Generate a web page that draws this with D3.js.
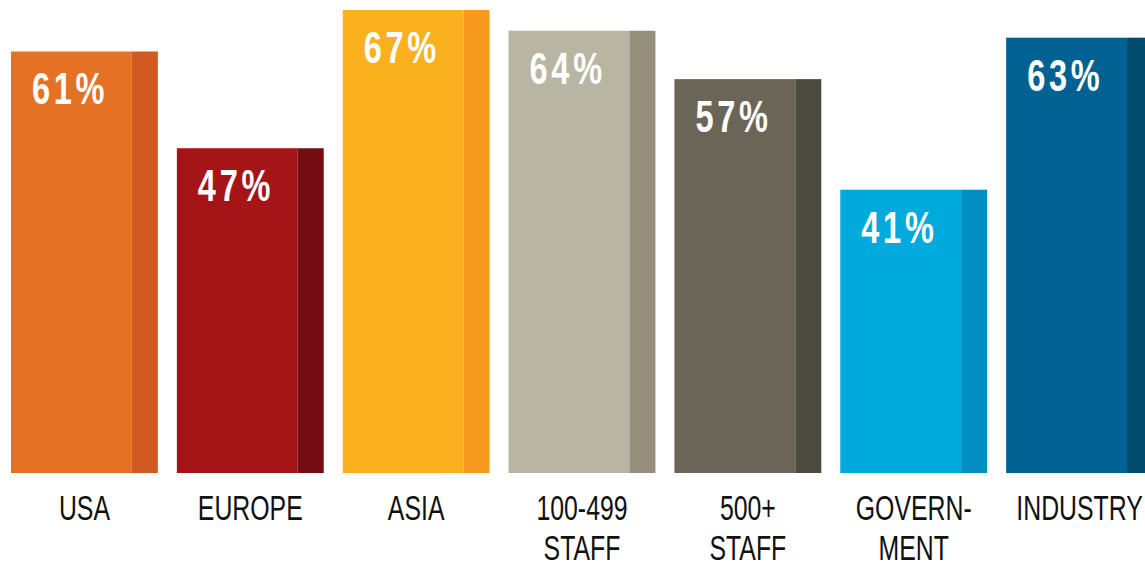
<!DOCTYPE html>
<html>
<head>
<meta charset="utf-8">
<script src="https://cdn.jsdelivr.net/npm/d3@7"></script>
<style>
  body { margin: 0; background: #fff; overflow: hidden; }
  svg { display: block; }
</style>
</head>
<body>
<div id="chart"></div>
<script>
// data
var categories = ["USA", "EUROPE", "ASIA", "100-499 STAFF", "500+ STAFF", "GOVERN- MENT", "INDUSTRY"];
var labelLines = [["USA"], ["EUROPE"], ["ASIA"], ["100-499", "STAFF"], ["500+", "STAFF"], ["GOVERN-", "MENT"], ["INDUSTRY"]];
var values = [61, 47, 67, 64, 57, 41, 63];
var mainColors = ["#e57125", "#a51417", "#fbb01e", "#b9b5a3", "#6b6558", "#00aadc", "#006192"];
var stripColors = ["#d05a22", "#730d11", "#f89a20", "#958f7b", "#4b4a3f", "#008dc2", "#004b6e"];

var svgWidth = 1145;
var svgHeight = 566;
var baseY = 473;

var svg = d3.select("#chart")
  .append("svg")
  .attr("width", svgWidth)
  .attr("height", svgHeight);

var data = categories.map(function(c, i) {
  return { cat: c, lines: labelLines[i], value: values[i], main: mainColors[i], strip: stripColors[i] };
});

// scales
var xScale = d3.scaleBand()
  .domain(categories)
  .range([11, 1153])
  .paddingInner(0.1145)
  .paddingOuter(0);

var yScale = d3.scaleLinear()
  .domain([0, 100])
  .range([baseY, baseY - 691]);

var stripW = 26;
var bw = xScale.bandwidth();

var groups = svg.selectAll("g.bar")
  .data(data)
  .enter()
  .append("g")
  .attr("class", "bar");

// main part of the bar
groups.append("rect")
  .attr("x", d => xScale(d.cat))
  .attr("y", d => yScale(d.value))
  .attr("width", bw - stripW)
  .attr("height", d => baseY - yScale(d.value))
  .attr("fill", d => d.main);

// darker strip on the right
groups.append("rect")
  .attr("x", d => xScale(d.cat) + bw - stripW)
  .attr("y", d => yScale(d.value))
  .attr("width", stripW)
  .attr("height", d => baseY - yScale(d.value))
  .attr("fill", d => d.strip);

// value labels (condensed look)
groups.append("text")
  .attr("transform", d => `translate(${xScale(d.cat) + 21}, ${yScale(d.value) + 53}) scale(0.74,1)`)
  .attr("font-family", "'Liberation Sans', Arial, sans-serif")
  .attr("font-weight", "bold")
  .attr("font-size", 44)
  .attr("letter-spacing", 5)
  .attr("fill", "#fff")
  .text(d => d.value + "%");

// category labels
var catText = groups.append("text")
  .attr("transform", d => `translate(${xScale(d.cat) + bw / 2}, 520) scale(0.71,1)`)
  .attr("font-family", "'Liberation Sans', Arial, sans-serif")
  .attr("font-size", 35)
  .attr("fill", "#111")
  .style("text-anchor", "middle");

catText.selectAll("tspan")
  .data(d => d.lines)
  .enter()
  .append("tspan")
  .attr("x", 0)
  .attr("y", (d, i) => i * 40)
  .text(d => d);
</script>
</body>
</html>
